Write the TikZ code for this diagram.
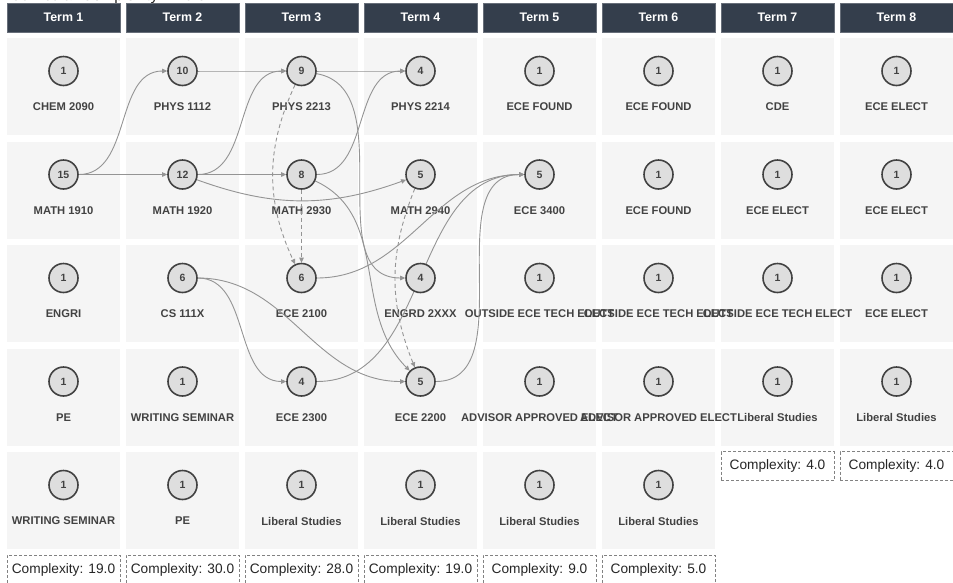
\documentclass[tikz,border=0pt]{standalone}
\usepackage{fontspec}
\setmainfont{Liberation Sans}
\usetikzlibrary{arrows.meta,backgrounds}
\definecolor{termbg}{RGB}{52,62,76}
\definecolor{cellbg}{RGB}{245,245,245}
\definecolor{ringc}{RGB}{66,66,66}
\definecolor{dotbg}{RGB}{222,222,222}
\definecolor{edgec}{RGB}{148,148,148}
\definecolor{boxc}{RGB}{130,130,130}
\tikzset{term/.style={fill=termbg,draw=termbg!75!white,line width=0.4pt,text=white,inner sep=0pt,
    minimum width=113pt,minimum height=29pt,font=\bfseries\fontsize{12.4}{14}\selectfont},
  cell/.style={fill=cellbg,inner sep=0pt,minimum width=113pt,minimum height=97pt},
  course/.style={circle,draw=ringc,line width=1.6pt,fill=dotbg,inner sep=0pt,minimum size=29pt,
    text=ringc,font=\bfseries\fontsize{10.5}{12}\selectfont},
  lbl/.style={text=ringc,inner sep=1pt,font=\bfseries\fontsize{11.2}{13}\selectfont},
  cplx/.style={draw=boxc,dash pattern=on 3pt off 2pt,line width=0.8pt,fill=white,inner sep=0pt,
    minimum width=113pt,minimum height=29pt,text=black!85,font=\fontsize{13.7}{16}\selectfont},
  req/.style={draw=edgec,line width=0.9pt,-{Triangle[length=5pt,width=4.5pt]}},
  coreq/.style={req,dash pattern=on 4pt off 3pt}}
\begin{document}
\begin{tikzpicture}[x=1pt,y=-1pt]
\useasboundingbox (0,0) rectangle (953,582);
\node[anchor=base west,inner sep=0pt,text=black!85,font=\fontsize{15.5}{18}\selectfont] (title) at (10,0.6) {Curricular Complexity: 118.0};
\foreach \c in {1,...,8}
  \node[term] (h\c) at ({63.5+(\c-1)*119},17.5) {Term \c};
\begin{scope}[on background layer]
\foreach \c/\m in {1/5,2/5,3/5,4/5,5/5,6/5,7/4,8/4}
  \foreach \r in {1,...,\m}
    \node[cell] (b\c\r) at ({63.5+(\c-1)*119},{86.5+(\r-1)*103.5}) {};
\end{scope}
\foreach \c/\r/\k/\t in {1/1/1/CHEM 2090,1/2/15/MATH 1910,1/3/1/ENGRI,1/4/1/PE,1/5/1/WRITING SEMINAR,
    2/1/10/PHYS 1112,2/2/12/MATH 1920,2/3/6/CS 111X,2/4/1/WRITING SEMINAR,2/5/1/PE,
    3/1/9/PHYS 2213,3/2/8/MATH 2930,3/3/6/ECE 2100,3/4/4/ECE 2300,3/5/1/Liberal Studies,
    4/1/4/PHYS 2214,4/2/5/MATH 2940,4/3/4/ENGRD 2XXX,4/4/5/ECE 2200,4/5/1/Liberal Studies,
    5/1/1/ECE FOUND,5/2/5/ECE 3400,5/3/1/OUTSIDE ECE TECH ELECT,5/4/1/ADVISOR APPROVED ELECT,5/5/1/Liberal Studies,
    6/1/1/ECE FOUND,6/2/1/ECE FOUND,6/3/1/OUTSIDE ECE TECH ELECT,6/4/1/ADVISOR APPROVED ELECT,6/5/1/Liberal Studies,
    7/1/1/CDE,7/2/1/ECE ELECT,7/3/1/OUTSIDE ECE TECH ELECT,7/4/1/Liberal Studies,
    8/1/1/ECE ELECT,8/2/1/ECE ELECT,8/3/1/ECE ELECT,8/4/1/Liberal Studies}{
  \pgfmathsetmacro\x{63.5+(\c-1)*119}
  \pgfmathsetmacro\y{71+(\r-1)*103.5}
  \node[course] (n\c\r) at (\x,\y) {\k};
  \begin{scope}[on background layer]
    \node[lbl] (l\c\r) at (\x,\y+36) {\t};
  \end{scope}
}
\foreach \c/\m/\v in {1/5/19.0,2/5/30.0,3/5/28.0,4/5/19.0,5/5/9.0,6/5/5.0,7/4/4.0,8/4/4.0}
  \node[cplx] (k\c) at ({63.5+(\c-1)*119},{569.5-(5-\m)*103.5}) {Complexity: \v};
\begin{scope}[on background layer]
\foreach \a/\b/\o/\i in {n12/n21/0/180,n12/n22/0/180,n21/n31/0/180,n22/n31/0/180,n22/n32/0/180,
    n22/n42/-20/200,n31/n41/0/180,n32/n41/0/180,n31/n43/-10/180,n32/n44/-25/135,
    n33/n52/0/180,n34/n52/0/180,n44/n52/0/180,n23/n34/0/180,n23/n44/0/180}
  \draw[req] (\a) to[out=\o,in=\i] (\b);
\draw[coreq] (n31) to[bend right=25] (n33);
\draw[coreq] (n32) -- (n33);
\draw[coreq] (n42) to[bend right=22] (n44);
\end{scope}
\end{tikzpicture}
\end{document}
